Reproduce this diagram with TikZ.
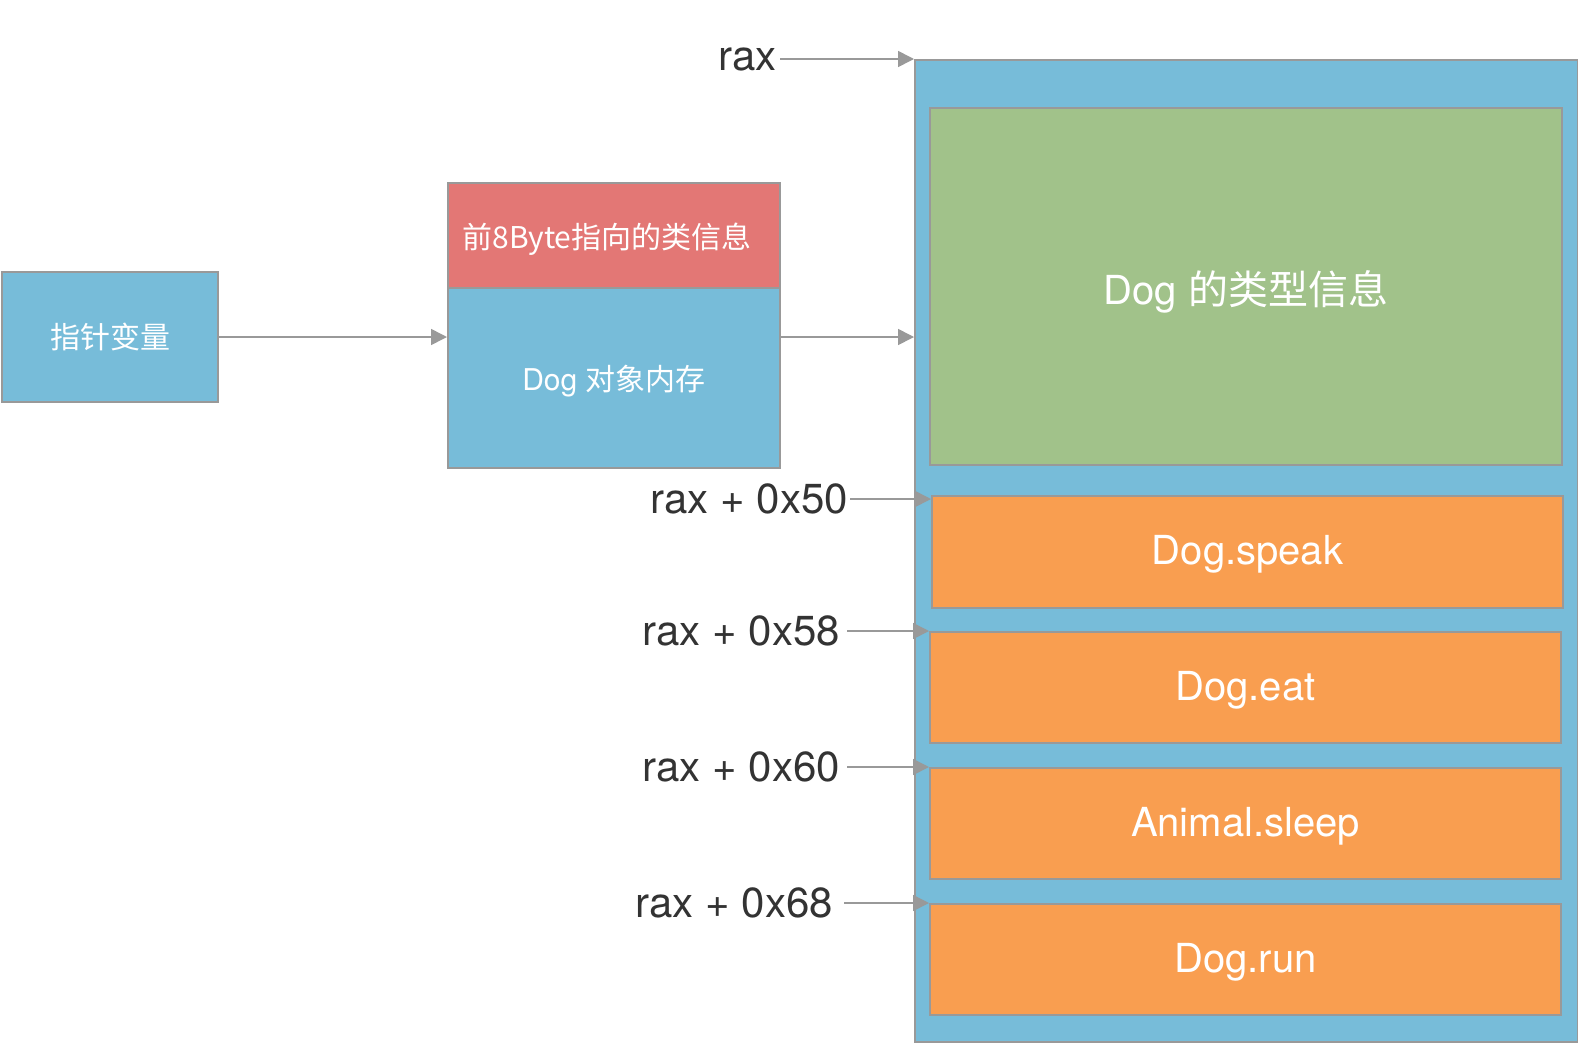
\documentclass[tikz,border=0pt]{standalone}
\usepackage{fontspec}
\setmainfont{TeX Gyre Heros}
\newfontfamily\cjk{Noto Sans CJK SC}
\usetikzlibrary{arrows.meta}
\definecolor{boxblue}{HTML}{77BCD9}
\definecolor{boxgreen}{HTML}{A1C28A}
\definecolor{boxorange}{HTML}{F99E50}
\definecolor{boxred}{HTML}{E37775}
\definecolor{edgegray}{HTML}{999999}
\definecolor{labelgray}{HTML}{333333}
\newcommand{\lowered}[2]{\raisebox{0pt}[\dimexpr\height+#1+#1\relax]{#2}}
\tikzset{
  box/.style={draw=edgegray, line width=2pt, anchor=north west, inner sep=0pt, text=white},
  bigtext/.style={font=\fontsize{40}{48}\selectfont},
  smalltext/.style={font=\fontsize{30}{36}\selectfont},
  addr/.style={anchor=east, inner sep=0pt, text=labelgray, font=\fontsize{42}{48}\selectfont},
  conn/.style={draw=edgegray, line width=1.6pt, -{Triangle[length=16pt,width=16pt]}}
}
\begin{document}
\begin{tikzpicture}[x=1pt,y=-1pt]
\useasboundingbox[fill=white] (0,0) rectangle (1578,1042);

% pointer variable
\node[box, fill=boxblue, smalltext, minimum width=216pt, minimum height=130pt] (ptr) at (1,271) {\cjk 指针变量};

% object memory
\node[box, fill=boxred, smalltext, minimum width=332pt, minimum height=105pt] (hdr) at (447,182) {\lowered{4pt}{\hspace*{-14pt}\cjk 前8Byte指向的类信息}};
\node[box, fill=boxblue, smalltext, minimum width=332pt, minimum height=180pt] (obj) at (447,287) {\lowered{3pt}{Dog {\cjk 对象内存}}};

% type memory
\node[box, fill=boxblue, minimum width=663pt, minimum height=982pt] (mem) at (914,59) {};
\node[box, fill=boxgreen, bigtext, minimum width=632pt, minimum height=357pt] (type) at (929,107) {\lowered{5pt}{Dog {\cjk 的类型信息}}};
\node[box, fill=boxorange, bigtext, minimum width=631pt, minimum height=112pt] (speak) at (931,495) {\lowered{2pt}{Dog.speak}};
\node[box, fill=boxorange, bigtext, minimum width=631pt, minimum height=111pt] (eat) at (929,631) {\lowered{3pt}{Dog.eat}};
\node[box, fill=boxorange, bigtext, minimum width=631pt, minimum height=111pt] (sleep) at (929,767) {\lowered{3pt}{Animal.sleep}};
\node[box, fill=boxorange, bigtext, minimum width=631pt, minimum height=111pt] (run) at (929,903) {\lowered{3pt}{Dog.run}};

% address labels
\node[addr] (lrax) at (777,59) {rax};
\node[addr] (l50) at (848,499) {rax + 0x50};
\node[addr] (l58) at (840,631) {rax + 0x58};
\node[addr] (l60) at (840,767) {rax + 0x60};
\node[addr] (l68) at (833,903) {rax + 0x68};

% connectors
\draw[conn] (ptr.east) -- (ptr.east -| obj.west);
\draw[conn] (ptr.east -| obj.east) -- (ptr.east -| mem.west);
\draw[conn, shorten <=3pt] (lrax.east) -- (lrax.east -| mem.west);
\draw[conn, shorten <=2pt] (l50.east) -- (l50.east -| speak.west);
\draw[conn, shorten <=7pt] (l58.east) -- (l58.east -| eat.west);
\draw[conn, shorten <=7pt] (l60.east) -- (l60.east -| sleep.west);
\draw[conn, shorten <=11pt] (l68.east) -- (l68.east -| run.west);
\end{tikzpicture}
\end{document}
